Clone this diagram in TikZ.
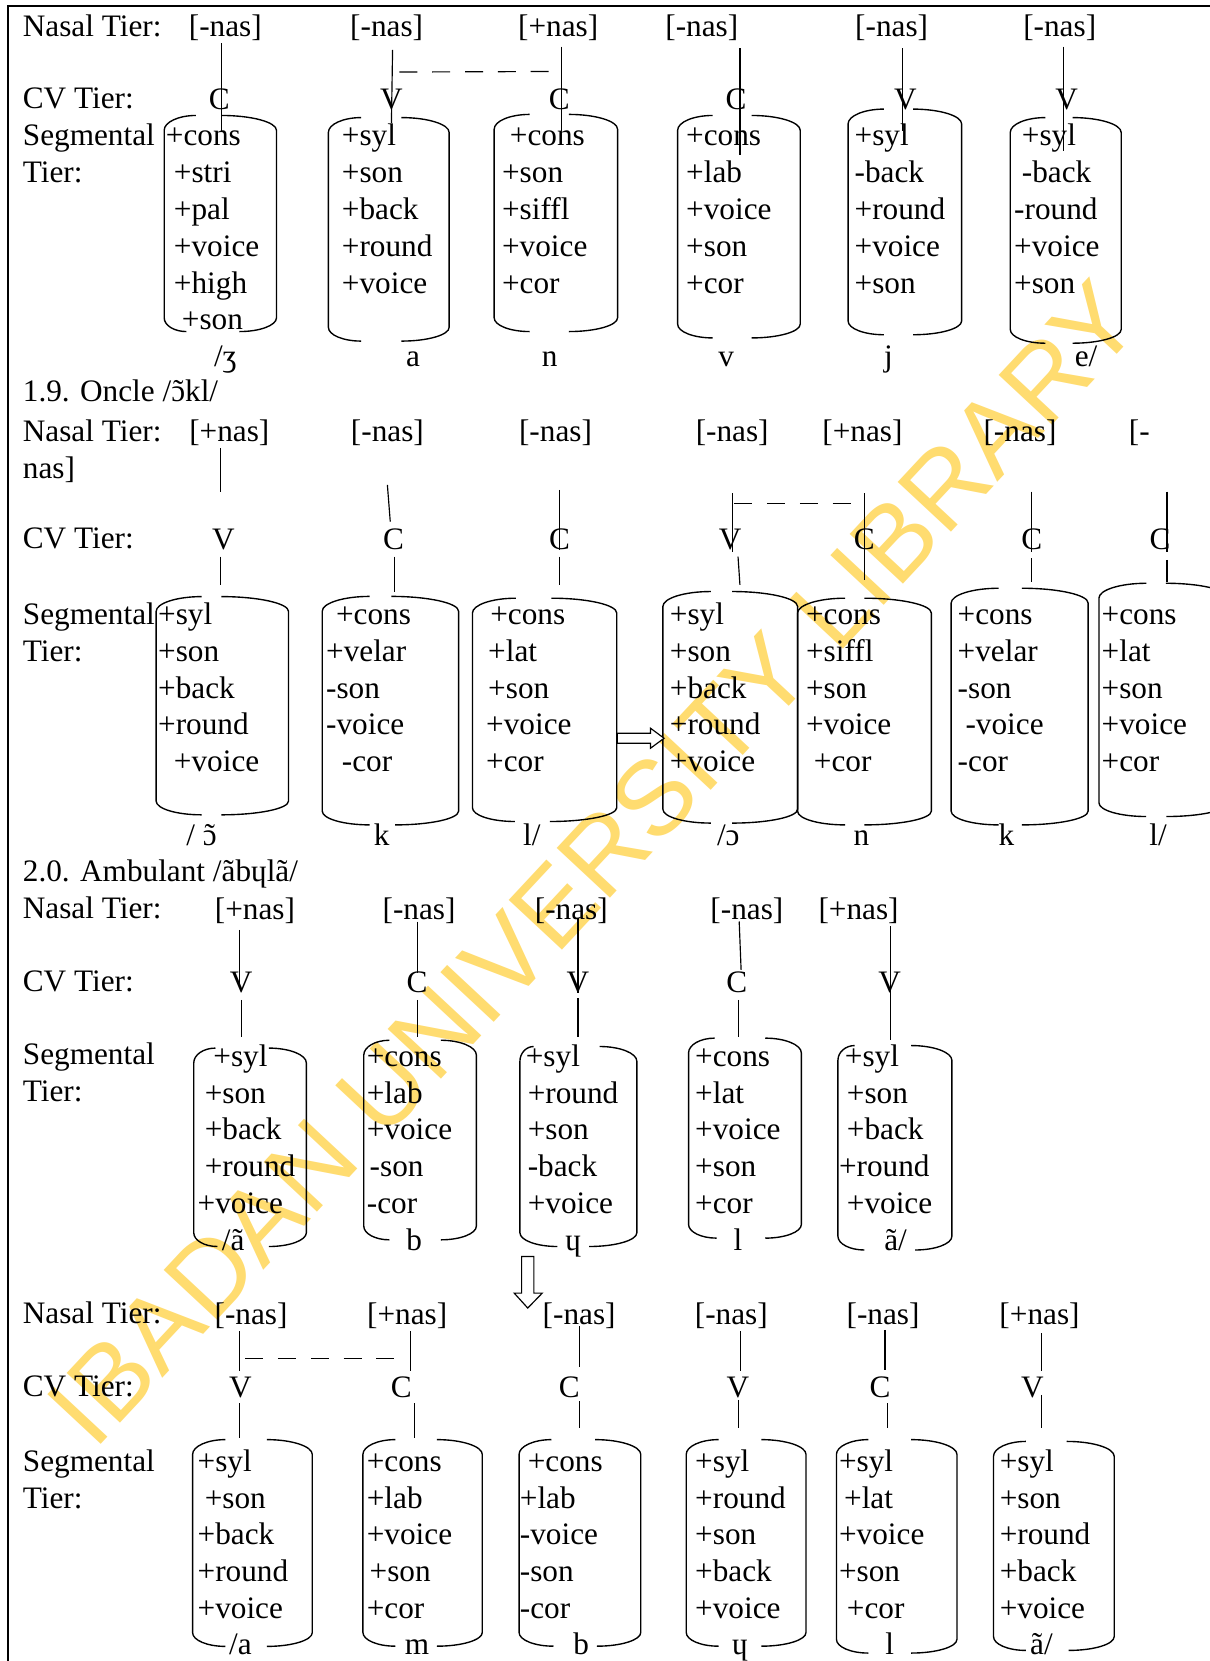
\documentclass[tikz,border=0pt]{standalone}
\usepackage{fontspec}
\setmainfont{Liberation Serif}
\newfontfamily\wmfont{Liberation Sans}
\definecolor{wmcol}{RGB}{255,220,112}
\newcounter{nd}
\newcommand\otil{\ooalign{ɔ\cr\hidewidth\char"02DC\hidewidth\cr}}
\tikzset{
  ft/.style={font=\fontsize{29.5}{35}\selectfont, inner sep=0pt, outer sep=0pt},
  boxline/.style={line width=1.3pt},
  tline/.style={line width=1.1pt},
  dline/.style={line width=1.1pt, dash pattern=on 17pt off 14pt},
  hollow/.style={line width=1.1pt, fill=white},
}
\newcommand\lt[3]{\stepcounter{nd}\node[ft,anchor=base west] (t\arabic{nd}) at (#1,#2) {#3};}
\newcommand\ct[3]{\stepcounter{nd}\node[ft,anchor=base] (t\arabic{nd}) at (#1,#2) {#3};}
\newcommand\feats[3]{\foreach \featx/\feattxt [count=\featidx from 0] in {#3} {\lt{\featx}{#1+\featidx*#2}{\feattxt}}}
% L R T B tgl tgr bgl bgr
\newcommand\segbox[8]{%
  \draw[boxline] (#5,#3) .. controls ({#5-0.55*(#5-(#1))},#3) and (#1,{#3+6.3}) .. (#1,{#3+14})
     -- (#1,{#4-13}) .. controls (#1,{#4-5.8}) and ({#7-0.55*(#7-(#1))},#4) .. (#7,#4);
  \draw[boxline] (#6,#3) .. controls ({#6+0.55*((#2)-#6)},#3) and (#2,{#3+6.3}) .. (#2,{#3+14})
     -- (#2,{#4-13}) .. controls (#2,{#4-5.8}) and ({#8+0.55*((#2)-#8)},#4) .. (#8,#4);
}
\newcommand\tl[4]{\draw[tline] (#1,#2) -- (#3,#4);}
\begin{document}
\begin{tikzpicture}[x=1pt,y=-1pt]
\useasboundingbox (0,0) rectangle (1142,1568);
\fill[white] (0,0) rectangle (1142,1568);
% watermark
\node[font=\wmfont\fontsize{100}{100}\selectfont, text=wmcol, rotate=47, inner sep=0pt] (wm) at (560,815) {IBADAN UNIVERSITY LIBRARY};
% frame
\draw[line width=2pt] (7.5,1570) -- (7.5,5.5) -- (1145,5.5);

% ================= Section 1 =================
\lt{21.6}{34.7}{Nasal Tier:}
\lt{21.6}{102.4}{CV Tier:}
\lt{21.6}{137}{Segmental}
\lt{21.6}{171.9}{Tier:}
\ct{212.7}{34.7}{[-nas]}
\ct{365}{34.7}{[-nas]}
\ct{527}{34.7}{[+nas]}
\ct{662.5}{34.7}{[-nas]}
\ct{841.7}{34.7}{[-nas]}
\ct{1000.4}{34.7}{[-nas]}
\ct{207.1}{103}{C}
\ct{369.5}{103}{V}
\ct{528}{103}{C}
\ct{694.8}{103}{C}
\ct{854.6}{103}{V}
\ct{1007}{103}{V}
\feats{137}{34.9}{156.7/+cons,164.2/+stri,164.2/+pal,164.2/+voice,164.2/+high,171.7/+son}
\feats{137}{34.9}{322.8/+syl,322.8/+son,322.8/+back,322.8/+round,322.8/+voice}
\feats{137}{34.9}{481.4/+cons,474/+son,474/+siffl,474/+voice,474/+cor}
\feats{137}{34.9}{647.8/+cons,647.8/+lab,647.8/+voice,647.8/+son,647.8/+cor}
\feats{137}{34.9}{806.8/+syl,806.8/-back,806.8/+round,806.8/+voice,806.8/+son}
\feats{137}{34.9}{964.7/+syl,964.7/-back,957.4/-round,957.4/+voice,957.4/+son}
\ct{212.7}{346}{/ʒ}
\ct{390}{346}{a}
\ct{518.8}{346}{n}
\ct{685.6}{346}{v}
\ct{838.8}{346}{j}
\ct{1025.3}{346}{e/}
\segbox{155}{261}{109}{313}{185}{209}{176}{226}
\segbox{310}{424}{111}{322}{341}{379}{341}{379}
\segbox{466.5}{583}{108}{313}{500}{537}{500}{537}
\segbox{639.7}{755.4}{109}{319}{672.8}{709.5}{672.8}{709.5}
\segbox{800.6}{907.8}{103}{316}{834.4}{861.9}{834.4}{861.9}
\segbox{953.7}{1058.4}{111}{324}{986.8}{1012.5}{986.8}{1012.5}
\tl{209}{41}{209}{124}
\tl{370.6}{47}{369.5}{116}
\draw[dline] (377,68) -- (522.5,67.5);
\tl{530}{44}{530}{124}
\tl{698.5}{45.6}{698.5}{146}
\tl{852}{45.6}{852}{124}
\tl{1004}{44}{1004}{143}

% ================= Section 2 =================
\lt{21.6}{379.3}{1.9. Oncle /\otil kl/}
\lt{21.6}{417}{Nasal Tier:}
\lt{21.6}{451.6}{nas]}
\lt{21.6}{517.7}{CV Tier:}
\lt{21.6}{590}{Segmental}
\lt{21.6}{624.6}{Tier:}
\ct{216.5}{417}{[+nas]}
\ct{365.7}{417}{[-nas]}
\ct{524.4}{417}{[-nas]}
\ct{691.2}{417}{[-nas]}
\ct{814.2}{417}{[+nas]}
\ct{962.9}{417}{[-nas]}
\lt{1065.7}{417}{[-}
\ct{210.9}{518.7}{V}
\ct{371.4}{518.7}{C}
\ct{528.1}{518.7}{C}
\ct{689.3}{518.7}{V}
\ct{816}{518.7}{C}
\ct{973.9}{518.7}{C}
\ct{1095.1}{518.7}{C}
\feats{590}{34.6}{149.3/+syl,149.3/+son,149.3/+back,149.3/+round,164.2/+voice}
\feats{590}{34.6}{317.2/+cons,307.9/+velar,307.9/-son,307.9/-voice,322.8/-cor}
\feats{590}{34.6}{462.8/+cons,460.9/+lat,460.9/+son,459/+voice,459/+cor}
\feats{590}{34.6}{632.4/+syl,632.4/+son,632.4/+back,632.4/+round,632.4/+voice}
\feats{590}{34.6}{760.9/+cons,760.9/+siffl,760.9/+son,760.9/+voice,768.3/+cor}
\feats{590}{34.6}{904.1/+cons,904.1/+velar,904.1/-son,911.5/-voice,904.1/-cor}
\feats{590}{34.6}{1040/+cons,1040/+lat,1040/+son,1040/+voice,1040/+cor}
\ct{190.3}{797.7}{/ \otil}
\ct{360.2}{797.7}{k}
\ct{502}{797.7}{l/}
\ct{687.5}{797.7}{/ɔ}
\ct{813.1}{797.7}{n}
\ct{950.1}{797.7}{k}
\ct{1093.3}{797.7}{l/}
\segbox{147.4}{272.4}{563.2}{769.2}{190.3}{209}{190.3}{209}
\segbox{304.2}{432.9}{563}{778.7}{349}{369.5}{349}{373}
\segbox{446}{582.2}{564.7}{775.5}{487}{520.6}{486}{519}
\segbox{625.8}{752.9}{558.4}{777}{671}{691.2}{671}{691.2}
\segbox{752.9}{879.2}{564.7}{778.7}{797.7}{816}{797.7}{816}
\segbox{897.9}{1027.2}{555.3}{778.7}{942.7}{964.7}{942.7}{964.7}
\segbox{1037.4}{1160}{550.6}{770.8}{1082.2}{1100.6}{1082}{1101}
\tl{207.9}{423.2}{207.9}{464}
\tl{208}{525.4}{208}{552.2}
\tl{365.7}{457.8}{368.4}{492.4}
\tl{372.1}{525.4}{372.1}{558.4}
\tl{528.1}{462.5}{528.1}{519}
\tl{528.1}{525.4}{528.1}{552.2}
\tl{691.2}{465.6}{691.2}{520.7}
\tl{696.7}{525.4}{698.5}{552.2}
\draw[dline] (693,475) -- (808.7,475);
\tl{816}{465.6}{816}{547.4}
\tl{973.9}{464}{973.9}{520.7}
\tl{973.9}{527}{973.9}{549}
\tl{1101.7}{464}{1101.7}{520.7}
\tl{1101.7}{528.5}{1101.7}{549}
% hollow right arrow
\draw[hollow] (582.8,692.2) -- (614,692.2) -- (614,687.4) -- (626.9,696.9) -- (614,706.4) -- (614,701.6) -- (582.8,701.6) -- cycle;

% ================= Section 3 =================
\lt{21.6}{832.3}{2.0. Ambulant /ãbɥlã/}
\lt{21.6}{866.9}{Nasal Tier:}
\lt{21.6}{936.1}{CV Tier:}
\lt{21.6}{1005.3}{Segmental}
\lt{21.6}{1039.9}{Tier:}
\ct{240.7}{868}{[+nas]}
\ct{395.6}{868}{[-nas]}
\ct{539.3}{868}{[-nas]}
\ct{705.1}{868}{[-nas]}
\ct{810.5}{868}{[+nas]}
\ct{227.6}{937}{V}
\ct{393.8}{937}{C}
\ct{545.6}{937}{V}
\ct{695.6}{937}{C}
\ct{839.9}{937}{V}
\feats{1006.9}{34.6}{201.5/+syl,193.3/+son,193.3/+back,193.3/+round,186.6/+voice}
\feats{1006.9}{34.6}{346.3/+cons,346.3/+lab,346.3/+voice,349/-son,346.3/-cor}
\feats{1006.9}{34.6}{496.4/+syl,498.2/+round,498.2/+son,498.2/-back,498.2/+voice}
\feats{1006.9}{34.6}{656.3/+cons,656.3/+lat,656.3/+voice,656.3/+son,656.3/+cor}
\feats{1006.9}{34.6}{797.6/+syl,799.5/+son,799.5/+back,792.1/+round,799.5/+voice}
\ct{220.2}{1180}{/ã}
\ct{391.1}{1180}{b}
\ct{541.1}{1180}{ɥ}
\ct{696.7}{1180}{l}
\ct{845.4}{1180}{ã/}
\segbox{182.9}{289.2}{989.4}{1176.7}{203.4}{253.8}{205.3}{253.8}
\segbox{343.4}{449.7}{982}{1170.4}{367.6}{416.1}{367.6}{416.1}
\segbox{490.8}{601.2}{987.9}{1176.7}{503.8}{566}{526.2}{556.1}
\segbox{650}{756.5}{980}{1168.8}{674.6}{722.4}{676.5}{722.4}
\segbox{791}{898.6}{987}{1180}{806.8}{860.1}{816}{863.8}
\tl{225.8}{877.8}{225.8}{932.8}
\tl{227.6}{943.8}{227.6}{978.5}
\tl{393.8}{869.9}{393.8}{918.7}
\tl{393.8}{943.8}{393.8}{978.5}
\tl{545.6}{866.8}{545.6}{937.6}
\tl{545.6}{942.3}{545.6}{978.5}
\tl{697.8}{869.9}{699.6}{915.5}
\tl{697.4}{943.8}{697.4}{978.5}
\tl{841}{874.6}{841}{981.6}
% hollow down arrow
\draw[hollow] (492.4,1186.1) -- (504,1186.1) -- (504,1220.7) -- (511.9,1220.7) -- (498.2,1234.8) -- (485.4,1220.7) -- (492.4,1220.7) -- cycle;

% ================= Section 4 =================
\lt{21.6}{1249.2}{Nasal Tier:}
\lt{21.6}{1318.4}{CV Tier:}
\lt{21.6}{1389.2}{Segmental}
\lt{21.6}{1423.8}{Tier:}
\ct{237}{1250}{[-nas]}
\ct{384.4}{1250}{[+nas]}
\ct{546.7}{1250}{[-nas]}
\ct{690.4}{1250}{[-nas]}
\ct{833.6}{1250}{[-nas]}
\ct{981.3}{1250}{[+nas]}
\ct{226.9}{1319.4}{V}
\ct{378.8}{1319.4}{C}
\ct{537.4}{1319.4}{C}
\ct{696.7}{1319.4}{V}
\ct{830.7}{1319.4}{C}
\ct{974.7}{1319.4}{V}
\feats{1389.2}{34.6}{186.6/+syl,193.3/+son,186.6/+back,186.6/+round,186.6/+voice}
\feats{1389.2}{34.6}{346.3/+cons,346.3/+lab,346.3/+voice,349/+son,346.3/+cor}
\feats{1389.2}{34.6}{498.2/+cons,490.8/+lab,490.8/-voice,490.8/-son,490.8/-cor}
\feats{1389.2}{34.6}{656.3/+syl,656.3/+round,656.3/+son,656.3/+back,656.3/+voice}
\feats{1389.2}{34.6}{792.1/+syl,796.9/+lat,792.1/+voice,792.1/+son,799.5/+cor}
\feats{1389.2}{34.6}{943.8/+syl,943.8/+son,943.8/+round,943.8/+back,943.8/+voice}
\ct{226.9}{1562}{/a}
\ct{393.7}{1562}{m}
\ct{548.6}{1562}{b}
\ct{698.5}{1562}{ɥ}
\ct{839.9}{1562}{l}
\ct{983.1}{1562}{ã/}
\segbox{181.8}{294.8}{1359}{1554.2}{212.7}{251.9}{212.7}{251.9}
\segbox{342.6}{455.3}{1359}{1554}{373.2}{412.4}{373.2}{412.4}
\segbox{490}{604.9}{1359}{1554}{520.6}{561.7}{522.5}{563.5}
\segbox{647.8}{760.9}{1359}{1554}{678.3}{718.7}{678.3}{718.7}
\segbox{789.6}{903.4}{1359}{1560.5}{819.7}{860.1}{819.7}{860.1}
\segbox{937.9}{1051.8}{1360.7}{1558}{968.4}{1007}{968.4}{1008.8}
\tl{225.8}{1256.9}{225.8}{1294.6}
\tl{225.8}{1324.5}{225.8}{1357.6}
\draw[dline] (231.4,1282.1) -- (378.8,1282.1);
\tl{387.4}{1256.9}{387.4}{1294.6}
\tl{391.1}{1324.5}{391.1}{1357.6}
\tl{546.7}{1252.2}{546.7}{1290}
\tl{546.7}{1322.9}{546.7}{1348.1}
\tl{699.2}{1256.9}{699.2}{1294.6}
\tl{697.4}{1321.4}{697.4}{1348.1}
\tl{835.5}{1255.3}{835.5}{1293}
\tl{838.1}{1324.5}{838.1}{1348.1}
\tl{983.1}{1258.4}{983.1}{1294.6}
\tl{983.1}{1316.7}{983.1}{1348.1}
\end{tikzpicture}
\end{document}
